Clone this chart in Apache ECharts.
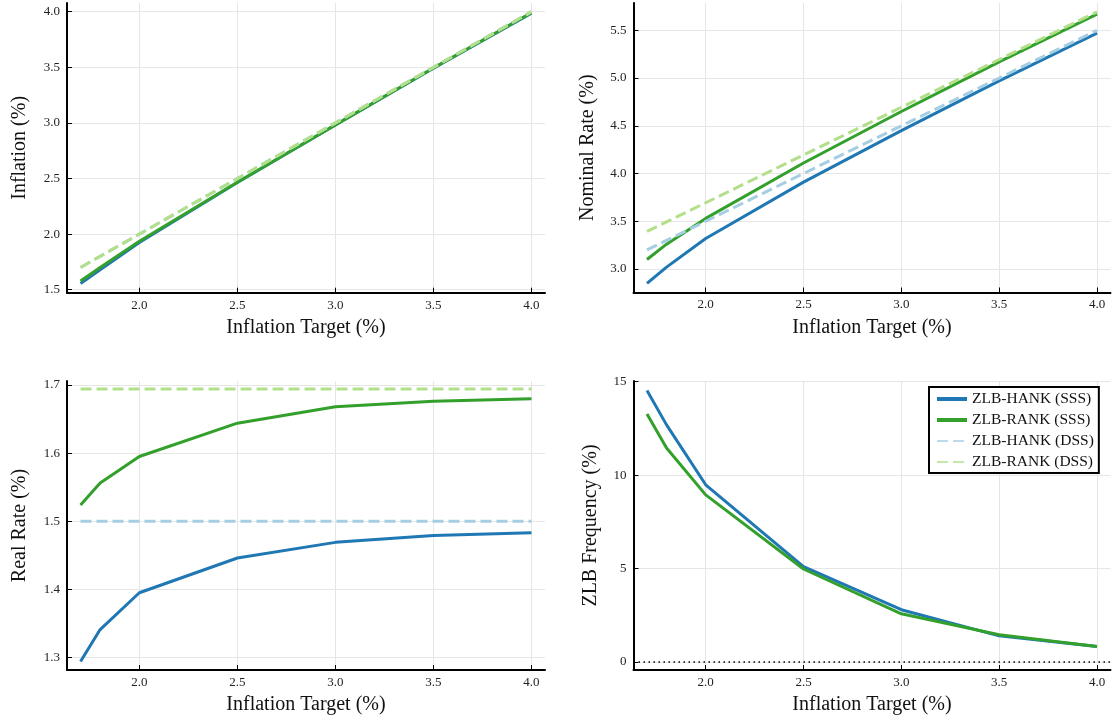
<!DOCTYPE html>
<html>
<head>
<meta charset="utf-8">
<script src="https://cdn.jsdelivr.net/npm/echarts@6/dist/echarts.min.js"></script>
<style>
  html, body { margin: 0; padding: 0; background: #fff; }
  #chart { width: 1114px; height: 721px; }
</style>
</head>
<body>
<div id="chart"></div>
<script>
// Inflation targets (x values, %)
const targets = [1.7, 1.8, 2.0, 2.5, 3.0, 3.5, 4.0];

// Average inflation (%)
const inflHankSSS = [1.556, 1.68, 1.925, 2.464, 2.981, 3.491, 3.987];
const inflRankSSS = [1.578, 1.70, 1.935, 2.466, 2.982, 3.494, 3.990];
const inflHankDSS = [1.7, 1.8, 2.0, 2.5, 3.0, 3.5, 4.0];
const inflRankDSS = [1.7, 1.8, 2.0, 2.5, 3.0, 3.5, 4.0];

// Nominal rate (%)
const nomHankSSS = [2.85, 3.02, 3.32, 3.91, 4.45, 4.97, 5.47];
const nomRankSSS = [3.10, 3.26, 3.53, 4.11, 4.65, 5.17, 5.67];
const nomHankDSS = [3.2, 3.3, 3.5, 4.0, 4.5, 5.0, 5.5];
const nomRankDSS = [3.394, 3.494, 3.694, 4.194, 4.694, 5.194, 5.694];

// Real rate (%)
const realHankSSS = [1.294, 1.341, 1.395, 1.446, 1.469, 1.479, 1.483];
const realRankSSS = [1.524, 1.556, 1.595, 1.644, 1.668, 1.676, 1.680];
const realHankDSS = [1.5, 1.5, 1.5, 1.5, 1.5, 1.5, 1.5];
const realRankDSS = [1.694, 1.694, 1.694, 1.694, 1.694, 1.694, 1.694];

// Frequency at the zero lower bound (%)
const zlbHankSSS = [14.53, 12.69, 9.48, 5.1, 2.79, 1.39, 0.82];
const zlbRankSSS = [13.27, 11.45, 8.94, 4.97, 2.57, 1.45, 0.82];

// Tick labels
const xTicks = [2.0, 2.5, 3.0, 3.5, 4.0];
const yTicksInfl = [1.5, 2.0, 2.5, 3.0, 3.5, 4.0];
const yTicksNom = [3.0, 3.5, 4.0, 4.5, 5.0, 5.5];
const yTicksReal = [1.3, 1.4, 1.5, 1.6, 1.7];
const yTicksZlb = [0, 5, 10, 15];

const seriesNames = ['ZLB-HANK (SSS)', 'ZLB-RANK (SSS)', 'ZLB-HANK (DSS)', 'ZLB-RANK (DSS)'];
const COLORS = { hank: '#1f78b4', rank: '#33a02c', hankLight: '#a6cee3', rankLight: '#b2df8a' };
const FONT = 'Liberation Serif';

const gridRects = [
  { left: 67, top: 3, width: 478, height: 289.7 },
  { left: 633.5, top: 3, width: 477, height: 289.5 },
  { left: 67, top: 381, width: 478, height: 289 },
  { left: 633.5, top: 381, width: 477, height: 289 }
];

function xAxisFor(gridIndex) {
  return {
    type: 'value', gridIndex, min: 1.631, max: 4.069,
    name: 'Inflation Target (%)', nameLocation: 'middle', nameGap: 25,
    nameTextStyle: { fontFamily: FONT, fontSize: 20, color: '#111' },
    axisLine: { onZero: false, lineStyle: { color: '#000', width: 2 } },
    axisTick: { inside: true, length: 5, customValues: xTicks, lineStyle: { color: '#000', width: 1 } },
    axisLabel: { customValues: xTicks, margin: 6, color: '#222', fontFamily: FONT, fontSize: 13,
                 formatter: v => v.toFixed(1) },
    splitLine: { show: true, lineStyle: { color: '#e6e6e6', width: 1 } }
  };
}

function yAxisFor(gridIndex, name, min, max, ticks, digits, gap) {
  return {
    type: 'value', gridIndex, min, max,
    name, nameLocation: 'middle', nameGap: gap,
    nameTextStyle: { fontFamily: FONT, fontSize: 20, color: '#111' },
    axisLine: { onZero: false, lineStyle: { color: '#000', width: 2 } },
    axisTick: { inside: true, length: 5, customValues: ticks, lineStyle: { color: '#000', width: 1 } },
    axisLabel: { customValues: ticks, margin: 7, color: '#222', fontFamily: FONT, fontSize: 13,
                 formatter: v => v.toFixed(digits) },
    splitLine: { show: true, lineStyle: { color: '#e6e6e6', width: 1 } }
  };
}

function pairs(values) {
  return targets.map((t, i) => [t, values[i]]);
}

function line(name, idx, values, color, dashed) {
  return {
    type: 'line', name, xAxisIndex: idx, yAxisIndex: idx,
    data: pairs(values), symbol: 'none', showSymbol: false,
    lineStyle: { color, width: 3, type: dashed ? [11, 5] : 'solid', cap: 'butt', join: 'round' },
    itemStyle: { color },
    z: dashed ? 3 : 2
  };
}

function panelSeries(idx, hs, rs, hd, rd) {
  const out = [
    line(seriesNames[0], idx, hs, COLORS.hank, false),
    line(seriesNames[1], idx, rs, COLORS.rank, false)
  ];
  if (hd) out.push(line(seriesNames[2], idx, hd, COLORS.hankLight, true));
  if (rd) out.push(line(seriesNames[3], idx, rd, COLORS.rankLight, true));
  return out;
}

const series = [].concat(
  panelSeries(0, inflHankSSS, inflRankSSS, inflHankDSS, inflRankDSS),
  panelSeries(1, nomHankSSS, nomRankSSS, nomHankDSS, nomRankDSS),
  panelSeries(2, realHankSSS, realRankSSS, realHankDSS, realRankDSS),
  panelSeries(3, zlbHankSSS, zlbRankSSS, null, null)
);

// dotted reference line at zero in the ZLB panel
series[series.length - 2].markLine = {
  silent: true, symbol: 'none', animation: false,
  label: { show: false },
  lineStyle: { color: '#000', width: 1.5, type: [1.5, 3.5] },
  data: [{ yAxis: 0 }]
};

// legend samples are plain lines: the marker is made fully transparent
const hiddenMarker = { opacity: 0, borderWidth: 0 };

const option = {
  animation: false,
  backgroundColor: '#fff',
  grid: gridRects.map(r => Object.assign({ containLabel: false }, r)),
  xAxis: [0, 1, 2, 3].map(xAxisFor),
  yAxis: [
    yAxisFor(0, 'Inflation (%)', 1.473, 4.078, yTicksInfl, 1, 37),
    yAxisFor(1, 'Nominal Rate (%)', 2.754, 5.786, yTicksNom, 1, 36),
    yAxisFor(2, 'Real Rate (%)', 1.2816, 1.7059, yTicksReal, 1, 37),
    yAxisFor(3, 'ZLB Frequency (%)', -0.44, 15.04, yTicksZlb, 0, 33)
  ],
  legend: {
    orient: 'vertical', left: 929, top: 387,
    backgroundColor: '#fff', borderColor: '#000', borderWidth: 2, borderRadius: 0,
    padding: [4, 5, 3, 6], itemWidth: 30, itemHeight: 14, itemGap: 5,
    textStyle: { fontFamily: FONT, fontSize: 15.5, color: '#111' },
    data: [
      { name: seriesNames[0], itemStyle: hiddenMarker, lineStyle: { width: 4 } },
      { name: seriesNames[1], itemStyle: hiddenMarker, lineStyle: { width: 4 } },
      { name: seriesNames[2], itemStyle: hiddenMarker, lineStyle: { width: 1.5 } },
      { name: seriesNames[3], itemStyle: hiddenMarker, lineStyle: { width: 1.5 } }
    ]
  },
  series
};

const chart = echarts.init(document.getElementById('chart'), null, { renderer: 'canvas' });
chart.setOption(option);
</script>
</body>
</html>
